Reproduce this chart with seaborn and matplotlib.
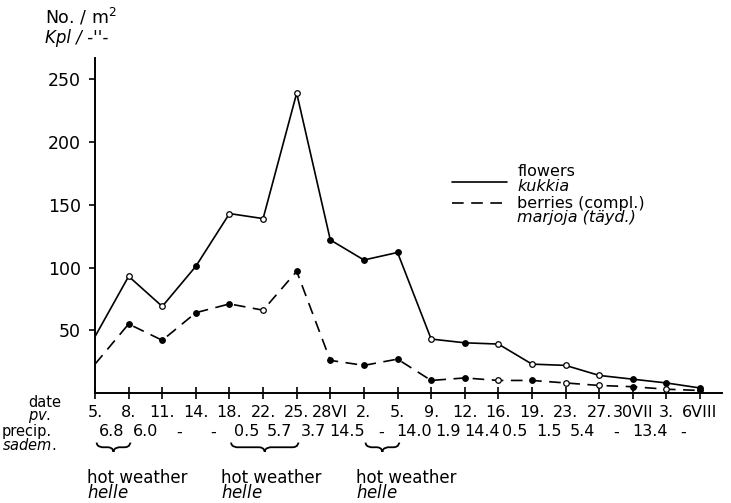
import numpy as np
import pandas as pd
import matplotlib
matplotlib.use("Agg")
import matplotlib.pyplot as plt
from matplotlib.path import Path
from matplotlib.patches import PathPatch
from matplotlib.lines import Line2D
import seaborn as sns

# data
dates = ["5.", "8.", "11.", "14.", "18.", "22.", "25.", "28VI", "2.", "5.",
         "9.", "12.", "16.", "19.", "23.", "27.", "30VII", "3.", "6VIII"]
flowers = [45, 93, 69, 101, 143, 139, 239, 122, 106, 112,
           43, 40, 39, 23, 22, 14, 11, 8, 4]
berries = [23, 55, 42, 64, 71, 66, 97, 26, 22, 27,
           10, 12, 10, 10, 8, 6, 5, 3, 2]
# marker type of each point: n = none, o = open, f = filled
flowers_mark = ["n", "o", "o", "f", "o", "o", "o", "f", "f", "f",
                "o", "f", "o", "o", "o", "o", "f", "f", "f"]
berries_mark = ["n", "f", "f", "f", "f", "o", "f", "f", "f", "f",
                "f", "f", "o", "f", "o", "o", "f", "o", "f"]
precip = ["6.8", "6.0", "-", "-", "0.5", "5.7", "3.7", "14.5", "-",
          "14.0", "1.9", "14.4", "0.5", "1.5", "5.4", "-", "13.4", "-"]
hot_spells = [(0, 1), (4, 6), (8, 9)]

df = pd.DataFrame({
    "idx": list(range(len(dates))) * 2,
    "value": flowers + berries,
    "series": ["flowers"] * len(dates) + ["berries"] * len(dates),
    "mark": flowers_mark + berries_mark,
})

sns.set_theme(style="ticks")
plt.rcParams["font.family"] = ["DejaVu Sans"]
plt.rcParams["mathtext.fontset"] = "dejavusans"
for k in ("text.color", "axes.labelcolor", "xtick.color", "ytick.color",
          "axes.edgecolor"):
    plt.rcParams[k] = "black"

fig = plt.figure(figsize=(7.31, 5.03), dpi=100)
ax = fig.add_axes([0.130, 0.2187, 0.858, 0.666])

sns.lineplot(data=df, x="idx", y="value", style="series",
             dashes={"flowers": "", "berries": (7, 4.5)},
             color="black", linewidth=1.2, legend=False, ax=ax)
for m, fc in (("o", "white"), ("f", "black")):
    sub = df[df["mark"] == m]
    sns.scatterplot(data=sub, x="idx", y="value", s=16, marker="o",
                    facecolor=fc, edgecolor="black", linewidth=0.9,
                    zorder=5, legend=False, ax=ax)

ax.set_xlim(0, 18.66)
ax.set_ylim(0, 267)
ax.set_xticks(range(len(dates)))
ax.set_xticklabels(dates, fontsize=11.5)
ax.set_yticks([50, 100, 150, 200, 250])
ax.tick_params(axis="x", direction="inout", length=9, width=1.2, pad=4)
ax.tick_params(axis="y", direction="out", length=4, width=1.2, pad=6,
               labelsize=12.5)
ax.set_xlabel("")
ax.set_ylabel("")
sns.despine(ax=ax)
for s in ("left", "bottom"):
    ax.spines[s].set_linewidth(1.4)

# legend, drawn by hand to get the two-line labels with italic second line
for y, dash in ((0.630, None), (0.567, (7, 4.5))):
    ln = Line2D([0.569, 0.657], [y, y], transform=ax.transAxes,
                color="black", lw=1.2)
    if dash:
        ln.set_dashes(dash)
    ax.add_line(ln)
leg_txt = [("flowers", 0.660, "normal"), ("kukkia", 0.617, "italic"),
           ("berries (compl.)", 0.567, "normal"),
           ("marjoja (täyd.)", 0.524, "italic")]
for t, y, st in leg_txt:
    ax.text(0.673, y, t, transform=ax.transAxes, fontsize=11.5,
            style=st, va="center", ha="left")

# axis titles
fig.text(0.061, 0.966, "No. / m$^2$", fontsize=12.5, va="center")
fig.text(0.061, 0.925, "Kpl / -''-", fontsize=12, va="center",
         style="italic")

tr = ax.get_xaxis_transform()
# row headers (second line italic)
ax.text(-0.107, -0.050, "date\n" + r"$\mathit{pv.}$", transform=ax.transAxes,
        ha="left", va="center", fontsize=10.5, linespacing=0.8)
ax.text(-0.149, -0.136, "precip.\n" + r"$\mathit{sadem.}$",
        transform=ax.transAxes, ha="left", va="center", fontsize=10.5,
        linespacing=0.8)

# precipitation values between dates
for i, p in enumerate(precip):
    ax.text(i + 0.5, -0.116, p, transform=tr, ha="center", va="center",
            fontsize=11.5)


def brace(x0, x1, top=-0.148, mid=-0.162, bot=-0.176):
    xc = (x0 + x1) / 2
    r = min(0.18, (x1 - x0) / 4)
    verts = [(x0, top), (x0, mid), (x0 + r, mid), (x0 + r, mid),
             (xc - r, mid),
             (xc, mid), (xc, bot), (xc, bot),
             (xc, mid), (xc + r, mid), (xc + r, mid),
             (x1 - r, mid),
             (x1, mid), (x1, top), (x1, top)]
    codes = [Path.MOVETO, Path.CURVE4, Path.CURVE4, Path.CURVE4,
             Path.LINETO,
             Path.CURVE4, Path.CURVE4, Path.CURVE4,
             Path.CURVE4, Path.CURVE4, Path.CURVE4,
             Path.LINETO,
             Path.CURVE4, Path.CURVE4, Path.CURVE4]
    ax.add_patch(PathPatch(Path(verts, codes), transform=tr, fill=False,
                           lw=1.3, color="black", clip_on=False))


for a, b in hot_spells:
    brace(a + 0.05, b + 0.05)
    ax.text(a - 0.24, -0.276, "hot weather\n" + r"$\mathit{helle}$",
            transform=tr, ha="left", va="center", fontsize=12,
            linespacing=0.85)

fig.savefig("out.png", dpi=100)
